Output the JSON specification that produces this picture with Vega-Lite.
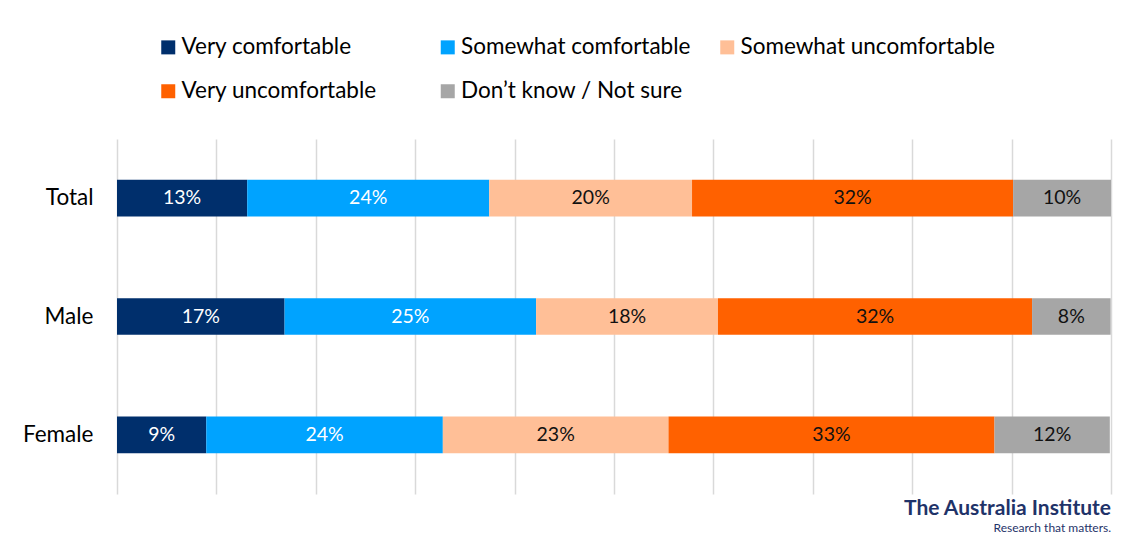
{
  "$schema": "https://vega.github.io/schema/vega-lite/v6.json",
  "width": 994,
  "height": 355,
  "autosize": {"type": "none"},
  "padding": {"left": 117, "top": 139, "right": 23, "bottom": 59},
  "background": "white",
  "config": {"view": {"stroke": null}},
  "title": {
    "text": "The Australia Institute",
    "subtitle": "Research that matters.",
    "orient": "bottom",
    "anchor": "end",
    "offset": 4,
    "font": "Lato",
    "fontSize": 21,
    "fontWeight": "bold",
    "color": "#1F3369",
    "subtitleFont": "Lato",
    "subtitleFontSize": 12,
    "subtitleColor": "#1F3369",
    "subtitlePadding": 4
  },
  "data": {
    "values": [
      {"g": "Total", "c": "Very comfortable", "k": 1, "v": 13.1},
      {"g": "Total", "c": "Somewhat comfortable", "k": 2, "v": 24.35},
      {"g": "Total", "c": "Somewhat uncomfortable", "k": 3, "v": 20.4},
      {"g": "Total", "c": "Very uncomfortable", "k": 4, "v": 32.3},
      {"g": "Total", "c": "Don’t know / Not sure", "k": 5, "v": 9.85},
      {"g": "Male", "c": "Very comfortable", "k": 1, "v": 16.86},
      {"g": "Male", "c": "Somewhat comfortable", "k": 2, "v": 25.3},
      {"g": "Male", "c": "Somewhat uncomfortable", "k": 3, "v": 18.3},
      {"g": "Male", "c": "Very uncomfortable", "k": 4, "v": 31.6},
      {"g": "Male", "c": "Don’t know / Not sure", "k": 5, "v": 7.9},
      {"g": "Female", "c": "Very comfortable", "k": 1, "v": 8.98},
      {"g": "Female", "c": "Somewhat comfortable", "k": 2, "v": 23.8},
      {"g": "Female", "c": "Somewhat uncomfortable", "k": 3, "v": 22.7},
      {"g": "Female", "c": "Very uncomfortable", "k": 4, "v": 32.8},
      {"g": "Female", "c": "Don’t know / Not sure", "k": 5, "v": 11.6}
    ]
  },
  "transform": [
    {"stack": "v", "groupby": ["g"], "sort": [{"field": "k", "order": "ascending"}], "as": ["v0", "v1"]},
    {"calculate": "(datum.v0 + datum.v1) / 2", "as": "mid"},
    {"calculate": "format(datum.v, '.0f') + '%'", "as": "lab"}
  ],
  "encoding": {
    "y": {
      "field": "g",
      "type": "nominal",
      "sort": ["Total", "Male", "Female"],
      "scale": {"paddingInner": 0.69, "paddingOuter": 0.345},
      "axis": {
        "title": null,
        "domain": false,
        "ticks": false,
        "grid": false,
        "labelFont": "Lato",
        "labelFontSize": 22.5,
        "labelColor": "#000000",
        "labelPadding": 24
      }
    }
  },
  "layer": [
    {
      "mark": {"type": "bar", "stroke": null},
      "encoding": {
        "x": {
          "field": "v0",
          "type": "quantitative",
          "scale": {"domain": [0, 100], "nice": false, "zero": true},
          "axis": {
            "title": null,
            "values": [0, 10, 20, 30, 40, 50, 60, 70, 80, 90, 100],
            "labels": false,
            "ticks": false,
            "domain": false,
            "grid": true,
            "gridColor": "#D9D9D9",
            "gridWidth": 1.5
          }
        },
        "x2": {"field": "v1"},
        "color": {
          "field": "c",
          "type": "nominal",
          "scale": {
            "domain": ["Very comfortable", "Somewhat comfortable", "Somewhat uncomfortable", "Very uncomfortable", "Don’t know / Not sure"],
            "range": ["#002F6C", "#00A3FF", "#FFBF97", "#FF6100", "#A6A6A6"]
          },
          "legend": {
            "title": null,
            "orient": "none",
            "legendX": 40,
            "legendY": -103,
            "direction": "horizontal",
            "columns": 3,
            "gridAlign": "all",
            "columnPadding": 0.5,
            "rowPadding": 21,
            "symbolType": "square",
            "symbolSize": 196,
            "symbolStrokeWidth": 0,
            "labelOffset": 2,
            "labelFont": "Lato",
            "labelFontSize": 22.5,
            "labelColor": "#000000",
            "labelLimit": 400
          }
        }
      }
    },
    {
      "mark": {"type": "text", "font": "Lato", "fontSize": 19.5, "baseline": "middle", "align": "center"},
      "encoding": {
        "x": {"field": "mid", "type": "quantitative"},
        "text": {"field": "lab"},
        "color": {
          "condition": {"test": "datum.k <= 2", "value": "#FFFFFF"},
          "value": "#111111"
        }
      }
    }
  ]
}
